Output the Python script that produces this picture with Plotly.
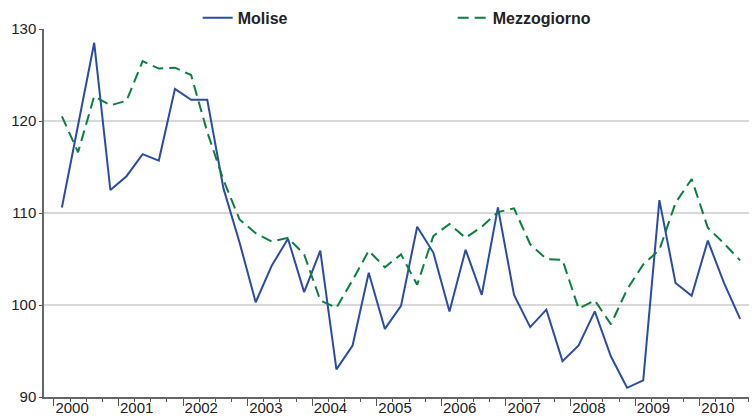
import plotly.graph_objects as go

years = [2000, 2001, 2002, 2003, 2004, 2005, 2006, 2007, 2008, 2009, 2010]
quarters = list(range(43))  # 2000Q1 .. 2010Q3

molise = [110.6, 119.7, 128.5, 112.5, 114.0, 116.4, 115.7, 123.5, 122.3, 122.3,
          112.7, 106.8, 100.3, 104.3, 107.2, 101.4, 105.9, 93.0, 95.6, 103.5,
          97.4, 99.9, 108.5, 105.7, 99.3, 106.0, 101.1, 110.6, 101.1, 97.6,
          99.5, 93.9, 95.6, 99.3, 94.4, 91.0, 91.8, 111.4, 102.4, 101.0,
          107.0, 102.4, 98.5]
mezzogiorno = [120.5, 116.6, 122.7, 121.7, 122.2, 126.5, 125.7, 125.8, 125.0, 118.8,
               113.6, 109.3, 107.8, 106.9, 107.3, 105.5, 100.5, 99.7, 102.7, 105.9,
               104.1, 105.5, 102.2, 107.5, 108.8, 107.3, 108.5, 110.1, 110.5, 106.6,
               105.0, 104.9, 99.6, 100.5, 97.9, 101.7, 104.4, 106.0, 111.1, 113.7,
               108.4, 106.7, 104.85]

FONT = "Liberation Sans, Arial, sans-serif"

fig = go.Figure()
fig.add_trace(go.Scatter(x=quarters, y=molise, mode="lines", name="Molise",
                         line=dict(color="#2B4CA6", width=2)))
fig.add_trace(go.Scatter(x=quarters, y=mezzogiorno, mode="lines", name="Mezzogiorno",
                         line=dict(color="#0B7F3F", width=2, dash="11px,6px")))
# invisible trace for the label axis
fig.add_trace(go.Scatter(x=[quarters[0]], y=[molise[0]], xaxis="x2", mode="markers",
                         marker=dict(opacity=0), showlegend=False, hoverinfo="skip"))

year_bounds = [4 * k - 0.5 for k in range(len(years))]
label_pos = [b + 1.13 for b in year_bounds]
xr = [-1.11, 42.55]

fig.update_layout(
    width=753, height=418,
    margin=dict(l=44, r=4, t=29, b=21, autoexpand=False),
    paper_bgcolor="white", plot_bgcolor="white",
    font=dict(family=FONT, color="#222222", size=15),
    showlegend=True,
    legend=dict(orientation="h", x=0.218, xanchor="left", y=1.03, yanchor="middle",
                font=dict(family=FONT, size=16, color="#222222", weight="bold"),
                entrywidth=210, entrywidthmode="pixels", bgcolor="rgba(0,0,0,0)",
                tracegroupgap=0),
    xaxis=dict(range=xr, tickvals=year_bounds, ticktext=[""] * len(year_bounds),
               ticks="outside", ticklen=7, tickwidth=1, tickcolor="#555555",
               showline=True, linecolor="#666666", linewidth=1.5, showgrid=False,
               zeroline=False, automargin=False,
               minor=dict(tick0=-0.5, dtick=1, ticks="outside", ticklen=3,
                          tickwidth=1, tickcolor="#555555", showgrid=False)),
    xaxis2=dict(range=xr, overlaying="x", side="bottom", tickvals=label_pos,
                ticktext=[str(y) for y in years], ticks="", ticklen=0,
                showline=False, showgrid=False, automargin=False,
                zeroline=False, tickfont=dict(size=15, color="#222222")),
    yaxis=dict(range=[90, 130], tickvals=[90, 100, 110, 120, 130],
               ticks="outside", ticklen=3, tickcolor="#555555",
               showline=True, linecolor="#666666", linewidth=1.5, automargin=False,
               showgrid=True, gridcolor="#D9D9D9", gridwidth=1.5, zeroline=False,
               tickfont=dict(size=15, color="#222222")),
)

fig.write_html("out.html", config={"displayModeBar": False},
               post_script="document.body.style.margin='0';document.body.style.overflow='hidden';")
